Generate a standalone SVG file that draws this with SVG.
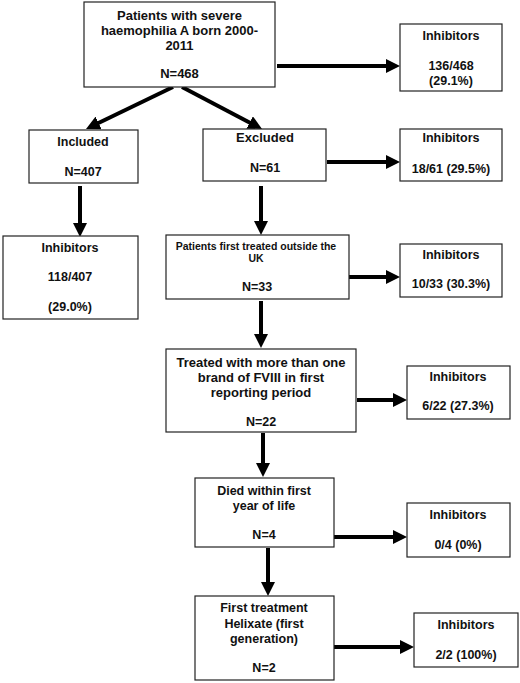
<svg xmlns="http://www.w3.org/2000/svg" width="520" height="683" viewBox="0 0 520 683">
<style>
.box{fill:#fff;stroke:#222;stroke-width:1.2}
text{font-family:"Liberation Sans",Arial,sans-serif;font-weight:bold;font-size:12.5px;fill:#111;text-anchor:middle}
.lg{font-size:13px}
.sm{font-size:10.5px}
.arr{stroke:#000;stroke-width:4;fill:none}
</style>
<defs>
<marker id="ah" markerUnits="userSpaceOnUse" markerWidth="14" markerHeight="14" refX="3" refY="7" orient="auto" viewBox="0 0 14 14">
<path d="M0,0 L14,7 L0,14 z" fill="#000"/>
</marker>
</defs>
<rect width="520" height="683" fill="#fff"/>
<g id="connectors">
<path class="arr" d="M277,66 H389" marker-end="url(#ah)"/>
<path class="arr" d="M173,87 L95.9,124.2" marker-end="url(#ah)"/>
<path class="arr" d="M182,87 L252.3,123.9" marker-end="url(#ah)"/>
<path class="arr" d="M327,162 H389" marker-end="url(#ah)"/>
<path class="arr" d="M80,186 V226" marker-end="url(#ah)"/>
<path class="arr" d="M261,186 V224" marker-end="url(#ah)"/>
<path class="arr" d="M349,277 H389" marker-end="url(#ah)"/>
<path class="arr" d="M261,301 V337" marker-end="url(#ah)"/>
<path class="arr" d="M357,400 H396" marker-end="url(#ah)"/>
<path class="arr" d="M263,433 V466" marker-end="url(#ah)"/>
<path class="arr" d="M334,537 H396" marker-end="url(#ah)"/>
<path class="arr" d="M268,548 V585" marker-end="url(#ah)"/>
<path class="arr" d="M334,647 H403" marker-end="url(#ah)"/>
</g>
<g id="n-patients">
<rect class="box" x="84" y="2" width="191" height="85"/>
<text class="lg" x="179.5" y="19.5">Patients with severe</text>
<text class="lg" x="179.5" y="34.5">haemophilia A born 2000-</text>
<text class="lg" x="179.5" y="49.5">2011</text>
<text class="lg" x="179.5" y="77.5">N=468</text>
</g>
<g id="n-inh1">
<rect class="box" x="400" y="24" width="102" height="67"/>
<text x="451" y="39.5">Inhibitors</text>
<text x="451" y="69.5">136/468</text>
<text x="451" y="84.5">(29.1%)</text>
</g>
<g id="n-included">
<rect class="box" x="29" y="130" width="109" height="53"/>
<text x="83" y="146">Included</text>
<text x="83" y="176">N=407</text>
</g>
<g id="n-excluded">
<rect class="box" x="203" y="129" width="123" height="52"/>
<text class="lg" x="265" y="142">Excluded</text>
<text x="265" y="172">N=61</text>
</g>
<g id="n-inh2">
<rect class="box" x="400" y="129" width="102" height="52"/>
<text x="451" y="142">Inhibitors</text>
<text x="451" y="173">18/61 (29.5%)</text>
</g>
<g id="n-inh-included">
<rect class="box" x="3" y="236" width="135" height="83"/>
<text x="70" y="252">Inhibitors</text>
<text x="70" y="281">118/407</text>
<text x="70" y="311">(29.0%)</text>
</g>
<g id="n-outside">
<rect class="box" x="166" y="235" width="183" height="64"/>
<text class="sm" x="256" y="249.5">Patients first  treated outside the</text>
<text class="sm" x="256" y="261.5">UK</text>
<text x="257" y="291">N=33</text>
</g>
<g id="n-inh3">
<rect class="box" x="400" y="244" width="102" height="53"/>
<text x="451" y="259">Inhibitors</text>
<text x="451" y="288">10/33 (30.3%)</text>
</g>
<g id="n-treated">
<rect class="box" x="166" y="349" width="190" height="83"/>
<text class="lg" x="261" y="366.5">Treated with more than one</text>
<text class="lg" x="261" y="381.5">brand of FVIII in first</text>
<text class="lg" x="261" y="396.5">reporting period</text>
<text x="261" y="425.5">N=22</text>
</g>
<g id="n-inh4">
<rect class="box" x="407" y="366" width="103" height="53"/>
<text x="458" y="381">Inhibitors</text>
<text x="458" y="410">6/22 (27.3%)</text>
</g>
<g id="n-died">
<rect class="box" x="195" y="478" width="139" height="69"/>
<text x="264" y="495">Died within first</text>
<text x="264" y="510">year of life</text>
<text x="264" y="539">N=4</text>
</g>
<g id="n-inh5">
<rect class="box" x="407" y="503" width="103" height="54"/>
<text x="458" y="519">Inhibitors</text>
<text x="458" y="549">0/4 (0%)</text>
</g>
<g id="n-helixate">
<rect class="box" x="195" y="596" width="139" height="84"/>
<text x="264" y="612">First treatment</text>
<text x="264" y="628">Helixate (first</text>
<text x="264" y="643">generation)</text>
<text x="264" y="672">N=2</text>
</g>
<g id="n-inh6">
<rect class="box" x="414" y="613" width="104" height="54"/>
<text x="466" y="629">Inhibitors</text>
<text x="466" y="659">2/2 (100%)</text>
</g>
</svg>
